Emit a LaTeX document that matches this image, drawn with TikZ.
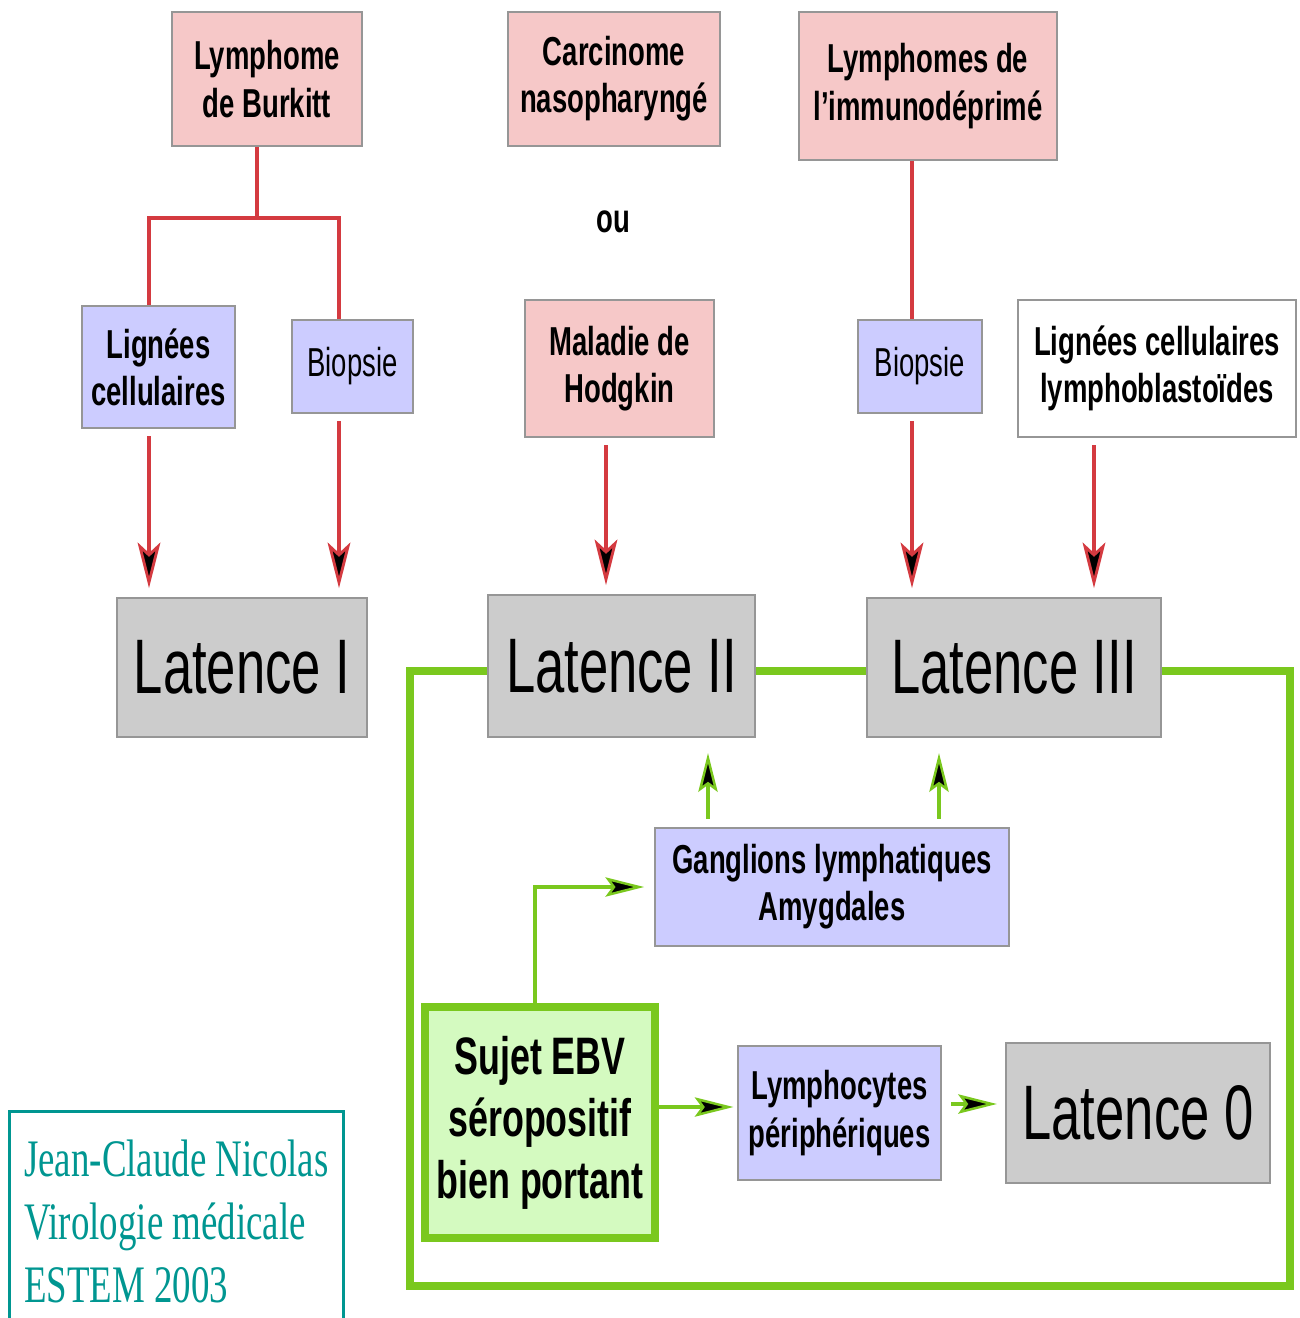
\documentclass[tikz,border=0pt]{standalone}
\usepackage{fontspec}
\setmainfont{Liberation Sans}[FakeStretch=0.68]
\newfontfamily\signfont{Liberation Serif}[FakeStretch=0.7]
\usepackage{tikz}
\usetikzlibrary{arrows.meta}
\usetikzlibrary{positioning}
\definecolor{pinkfill}{RGB}{246,200,200}
\definecolor{lavfill}{RGB}{204,204,255}
\definecolor{latgray}{RGB}{204,204,204}
\definecolor{edgegray}{RGB}{150,150,150}
\definecolor{redwire}{RGB}{212,58,64}
\definecolor{greenwire}{RGB}{122,200,30}
\definecolor{palegreen}{RGB}{212,250,192}
\definecolor{signteal}{RGB}{0,150,145}
\tikzset{
  box/.style = {draw = edgegray, line width = 0.6pt, align = center, inner sep = 2pt},
  bold/.style = {font = \fontsize{11.5}{13.4}\selectfont\bfseries},
  plain/.style = {font = \fontsize{11.5}{13.4}\selectfont},
  tumour/.style = {box, bold, fill = pinkfill},
  sample/.style = {box, fill = lavfill},
  latence/.style = {box, fill = latgray, font = \fontsize{22}{26}\selectfont},
  redline/.style = {draw = redwire, line width = 1.4pt},
  redarrow/.style = {redline, -{Stealth[length = 13pt, width = 6.5pt, inset = 3pt, line width = 0.8pt, fill = black]},
    shorten < = 2pt, shorten > = 2.5pt},
  greenline/.style = {draw = greenwire, line width = 2.4pt},
  greenarrow/.style = {draw = greenwire, line width = 1.1pt,
    -{Stealth[length = 11pt, width = 5.5pt, inset = 2pt, line width = 0.7pt, fill = black]}}
}

\begin{document}
\begin{tikzpicture}
  \useasboundingbox (0,0) rectangle (13,-13.18);
  % tumours
  \node [tumour, minimum width = 1.90cm, minimum height = 1.34cm] (burkitt) at (2.67,-0.79) {Lymphome\\de Burkitt};
  \node [tumour, minimum width = 2.12cm, minimum height = 1.34cm] (carcinome) at (6.14,-0.79) {Carcinome\\nasopharyngé};
  \node [tumour, minimum width = 2.58cm, minimum height = 1.48cm] (immuno) at (9.28,-0.86) {Lymphomes de\\l'immunodéprimé};
  \node [bold] (ou) at (6.13,-2.22) {ou};
  \node [tumour, minimum width = 1.89cm, minimum height = 1.37cm] (hodgkin) at (6.195,-3.685) {Maladie de\\Hodgkin};
  % samples
  \node [sample, bold, minimum width = 1.53cm, minimum height = 1.22cm] (lignees) at (1.585,-3.67) {Lignées\\cellulaires};
  \node [sample, plain, minimum width = 1.21cm, minimum height = 0.93cm] (biopsieA) at (3.525,-3.665) {Biopsie};
  \node [sample, plain, minimum width = 1.24cm, minimum height = 0.93cm] (biopsieB) at (9.20,-3.665) {Biopsie};
  \node [box, bold, fill = white, minimum width = 2.78cm, minimum height = 1.37cm] (lcl) at (11.57,-3.685) {Lignées cellulaires\\lymphoblastoïdes};
  % latences
  \node [latence, minimum width = 2.50cm, minimum height = 1.39cm] (latI) at (2.42,-6.675) {Latence I};
  \node [latence, minimum width = 2.67cm, minimum height = 1.42cm] (latII) at (6.215,-6.66) {Latence II};
  \node [latence, minimum width = 2.94cm, minimum height = 1.39cm] (latIII) at (10.14,-6.675) {Latence III};
  \node [latence, minimum width = 2.64cm, minimum height = 1.40cm] (lat0) at (11.38,-11.13) {Latence 0};
  % healthy carrier
  \node [sample, bold, minimum width = 3.54cm, minimum height = 1.18cm] (ganglions) at (8.32,-8.87) {Ganglions lymphatiques\\Amygdales};
  \node [box, draw = greenwire, line width = 2.4pt, fill = palegreen, font = \fontsize{15}{17.6}\selectfont\bfseries,
    minimum width = 2.30cm, minimum height = 2.31cm] (sujet) at (5.40,-11.225) {Sujet EBV\\séropositif\\bien portant};
  \node [sample, bold, minimum width = 2.03cm, minimum height = 1.34cm] (lympho) at (8.395,-11.13) {Lymphocytes\\périphériques};
  % signature
  \node [draw = signteal, line width = 0.8pt, text = signteal, font = \signfont\fontsize{15}{18}\selectfont,
    align = left, minimum width = 3.34cm, minimum height = 2.2cm, anchor = north west]
    (sign) at (0.08,-11.10) {Jean-Claude Nicolas\\Virologie médicale\\ESTEM 2003};

  % red connectors
  \coordinate (fork) at (2.57,-2.18);
  \draw [redline] (burkitt.south -| fork) -- (fork);
  \draw [redline] (1.49,0 |- lignees.north) |- (fork) -| (3.39,0 |- biopsieA.north);
  \draw [redline] (9.12,0 |- immuno.south) -- (9.12,0 |- biopsieB.north);
  \foreach \from/\to/\x in {lignees/latI/1.49, biopsieA/latI/3.39, hodgkin/latII/6.06,
                            biopsieB/latIII/9.12, lcl/latIII/10.94}
    \draw [redarrow] (\x,0 |- \from.south) -- (\x,0 |- \to.north);

  % green loop
  \coordinate (loopSW) at (4.10,-12.86);
  \coordinate (loopSE) at (12.90,-12.86);
  \draw [greenline] (latII.west |- 0,-6.71) -| (loopSW) -- (loopSE) |- (latIII.east |- 0,-6.71);
  \draw [greenline] (latII.east |- 0,-6.71) -- (latIII.west |- 0,-6.71);

  % green connectors
  \foreach \to/\x in {latII/7.08, latIII/9.39}
    \draw [greenarrow, shorten < = 2.3pt, shorten > = 4.3pt] (\x,0 |- ganglions.north) -- (\x,0 |- \to.south);
  \draw [greenarrow, shorten > = 2.8pt] (5.35,0 |- sujet.north) |- (ganglions.west);
  \draw [greenarrow, shorten > = 1pt] (sujet.east |- 0,-11.07) -- (lympho.west |- 0,-11.07);
  \draw [greenarrow, shorten < = 2.6pt, shorten > = 2.3pt] (lympho.east |- 0,-11.04) -- (lat0.west |- 0,-11.04);
\end{tikzpicture}
\end{document}
